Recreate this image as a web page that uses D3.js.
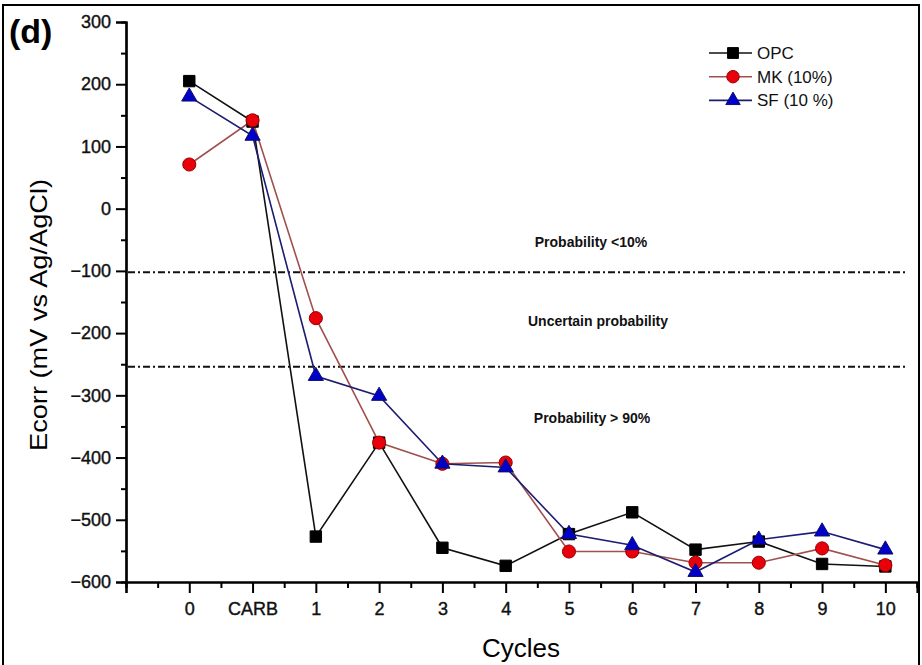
<!DOCTYPE html>
<html>
<head>
<meta charset="utf-8">
<script src="https://cdn.jsdelivr.net/npm/d3@7"></script>
<style>
  body { margin: 0; background: #fff; }
  svg { display: block; font-family: "Liberation Sans", Arial, sans-serif; }
</style>
</head>
<body>
<svg></svg>
<script>
/** Chart values */
let categories = ['0', 'CARB', '1', '2', '3', '4', '5', '6', '7', '8', '9', '10'];
let opcValues = [205, 140, -527, -376, -545, -574, -523, -488, -548, -535, -571, -575];
let mkValues = [71, 142, -176, -376, -410, -408, -551, -551, -569, -569, -546, -573];
let sfValues = [180, 117, -269, -301, -410, -416, -523, -541, -584, -532, -519, -548];
let yTicks = [300, 200, 100, 0, -100, -200, -300, -400, -500, -600];
let limitValues = [-102, -254];
let zoneLabels = ['Probability <10%', 'Uncertain probability', 'Probability > 90%'];
let zoneValues = [-62, -188, -345];
let seriesNames = ['OPC', 'MK (10%)', 'SF (10 %)'];

let width = 922;
let height = 665;

let svg = d3.select('svg').attr('width', width).attr('height', height);

let xScale = d3.scaleLinear().domain([-1, 11.5]).range([126, 917]);
let yScale = d3.scaleLinear().domain([-600, 300]).range([582, 22]);

/** outer frame */
svg.append('rect')
    .attr('x', 3).attr('y', 5)
    .attr('width', 916).attr('height', 700)
    .attr('fill', 'none').attr('stroke', '#000').attr('stroke-width', 2);

/** axes: major + minor ticks */
const styleAxis = (g) => {
    g.select('.domain').attr('stroke-width', 2.2);
    g.selectAll('.tick line').attr('stroke-width', 2);
    g.selectAll('.tick text')
        .attr('font-size', 18)
        .attr('font-family', '"Liberation Sans", Arial, sans-serif')
        .attr('fill', '#111')
        .attr('stroke', '#111')
        .attr('stroke-width', 0.4);
};

let minorY = d3.range(-550, 300, 100);
svg.append('g')
    .attr('transform', 'translate(126,0)')
    .call(d3.axisLeft(yScale).tickValues(minorY).tickSize(5).tickFormat(''))
    .call(styleAxis);
svg.append('g')
    .attr('transform', 'translate(126,0)')
    .call(d3.axisLeft(yScale).tickValues(yTicks).tickSize(10).tickPadding(5).tickFormat(d3.format('d')))
    .call(styleAxis);

let minorX = d3.range(-0.5, 12, 1);
svg.append('g')
    .attr('transform', 'translate(0,582)')
    .call(d3.axisBottom(xScale).tickValues(minorX).tickSize(6).tickFormat(''))
    .call(styleAxis);
svg.append('g')
    .attr('transform', 'translate(0,582)')
    .call(d3.axisBottom(xScale).tickValues(d3.range(-1, 12)).tickSize(11).tickPadding(9)
        .tickFormat(i => i < 0 ? '' : categories[i]))
    .call(styleAxis);

/** axis titles */
svg.append('text')
    .attr('x', 521).attr('y', 657)
    .attr('text-anchor', 'middle')
    .attr('font-size', 26)
    .text('Cycles');

svg.append('text')
    .attr('transform', 'translate(47,315) rotate(-90)')
    .attr('text-anchor', 'middle')
    .attr('font-size', 24)
    .attr('textLength', 272)
    .attr('lengthAdjust', 'spacingAndGlyphs')
    .text('Ecorr (mV vs Ag/AgCl)');

svg.append('text')
    .attr('x', 9).attr('y', 43)
    .attr('font-size', 34)
    .attr('font-weight', 'bold')
    .text('(d)');

/** threshold lines (dash-dot) */
svg.selectAll('.limit')
    .data(limitValues)
    .enter()
    .append('line')
    .attr('class', 'limit')
    .attr('x1', 128).attr('x2', 905)
    .attr('y1', d => yScale(d)).attr('y2', d => yScale(d))
    .attr('stroke', '#111')
    .attr('stroke-width', 2)
    .attr('stroke-dasharray', '7,3,2,3');

svg.selectAll('.zone')
    .data(zoneLabels)
    .enter()
    .append('text')
    .attr('class', 'zone')
    .attr('x', (d, i) => [591, 598, 592][i])
    .attr('y', (d, i) => yScale(zoneValues[i]))
    .attr('text-anchor', 'middle')
    .attr('font-size', 14)
    .attr('font-weight', 'bold')
    .attr('fill', '#111')
    .text(d => d);

/** series */
let series = [
    { name: seriesNames[0], values: opcValues, line: '#111', fill: '#000', stroke: '#000', shape: d3.symbolSquare, size: 130 },
    { name: seriesNames[1], values: mkValues, line: '#a0504c', fill: '#e8000a', stroke: '#9a0000', shape: d3.symbolCircle, size: 135 },
    { name: seriesNames[2], values: sfValues, line: '#1c1c70', fill: '#0000c8', stroke: '#10106a', shape: d3.symbolTriangle, size: 100 }
];

let line = d3.line()
    .x((d, i) => xScale(i))
    .y(d => yScale(d));

series.forEach(s => {
    svg.append('path')
        .datum(s.values)
        .attr('d', line)
        .attr('fill', 'none')
        .attr('stroke', s.line)
        .attr('stroke-width', 1.6);
});

series.forEach(s => {
    svg.selectAll(null)
        .data(s.values)
        .enter()
        .append('path')
        .attr('d', d3.symbol().type(s.shape).size(s.size))
        .attr('transform', (d, i) => `translate(${xScale(i)},${yScale(d)})`)
        .attr('fill', s.fill)
        .attr('stroke', s.stroke)
        .attr('stroke-width', 1);
});

/** legend */
let legend = svg.append('g').attr('transform', 'translate(709,53)');
series.forEach((s, i) => {
    let row = legend.append('g').attr('transform', `translate(0,${i * 23.7})`);
    row.append('line')
        .attr('x1', 0).attr('x2', 43)
        .attr('stroke', s.line).attr('stroke-width', 1.6);
    row.append('path')
        .attr('d', d3.symbol().type(s.shape).size(s.size * 0.9))
        .attr('transform', 'translate(24,0)')
        .attr('fill', s.fill).attr('stroke', s.stroke);
    row.append('text')
        .attr('x', 48).attr('y', 6)
        .attr('font-size', 17)
        .attr('fill', '#111')
        .text(s.name);
});
</script>
</body>
</html>
